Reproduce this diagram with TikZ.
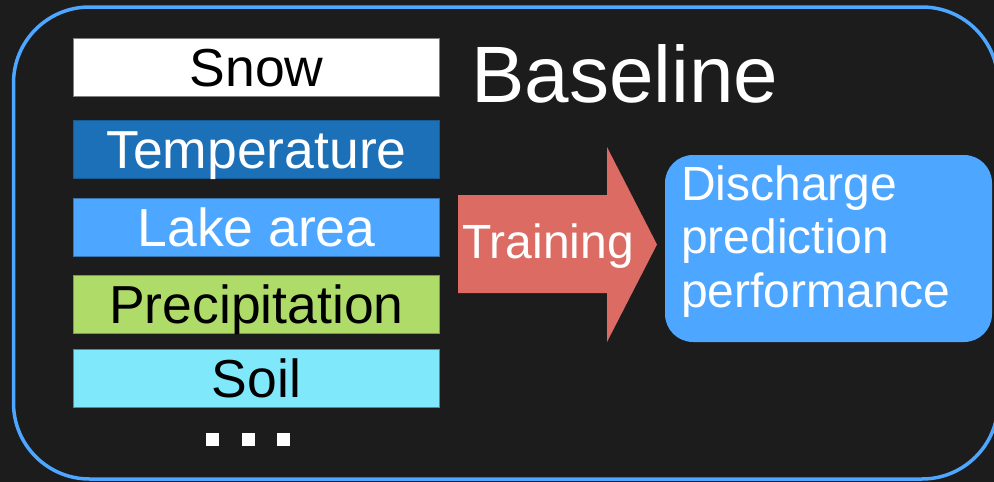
\documentclass[tikz,border=0pt]{standalone}
\usepackage{fontspec}
\setmainfont{Liberation Sans}
\definecolor{bgdark}{HTML}{1C1C1C}
\definecolor{frameblue}{HTML}{4DA6FF}
\definecolor{tempblue}{HTML}{1B70B8}
\definecolor{lakeblue}{HTML}{4DA6FF}
\definecolor{precipgreen}{HTML}{AFDC69}
\definecolor{soilcyan}{HTML}{80E8FB}
\definecolor{arrowred}{HTML}{DC6B64}
\begin{document}
\begin{tikzpicture}[x=1pt,y=-1pt,
  varbox/.style={rectangle, minimum width=366pt, minimum height=58pt,
    inner sep=0pt, line width=1pt,
    font=\fontsize{53.5}{60}\selectfont, text height=38pt, text depth=0pt},
  predbox/.style={rectangle, rounded corners=28pt, fill=lakeblue,
    minimum width=327pt, minimum height=187pt, inner sep=0pt},
  dot/.style={fill=white}]
\useasboundingbox (0,0) rectangle (994,482);
\fill[bgdark] (0,0) rectangle (994,482);

% outer frame, running off the right edge
\begin{scope}
  \clip (0,0) rectangle (994,482);
  \draw[frameblue, line width=3.5pt, rounded corners=76pt]
    (13.5,7) rectangle (998,479);
\end{scope}

% input variables
\node[varbox, fill=white, draw=gray, text=black] (snow) at (256.5,67) {Snow};
\node[varbox, fill=tempblue, draw=tempblue!80!black, text=white] (temp) at (256.5,149.5) {Temperature};
\node[varbox, fill=lakeblue, draw=lakeblue!70!black, text=white] (lake) at (256.5,227) {Lake area};
\node[varbox, fill=precipgreen, draw=precipgreen!70!black, text=black] (precip) at (256.5,304) {Precipitation};
\node[varbox, fill=soilcyan, draw=soilcyan!60!black, text=black] (soil) at (256.5,378.5) {Soil};

% ellipsis below the list
\fill[dot] (206,433) rectangle (219,446);
\fill[dot] (242,433) rectangle (255,446);
\fill[dot] (277,433) rectangle (290,446);

% title
\node[anchor=base west, inner sep=0pt, text=white,
  font=\fontsize{80}{90}\selectfont] (title) at (471,102) {Baseline};

% training block arrow
\fill[arrowred] (458,195) -- (607,195) -- (607,147) -- (657,244.5)
  -- (607,342) -- (607,293) -- (458,293) -- cycle;
\node[anchor=base west, inner sep=0pt, text=white,
  font=\fontsize{48}{54}\selectfont] (train) at (462,258) {Training};

% output
\node[predbox] (pred) at (828.5,248.5) {};
\node[anchor=north west, inner sep=0pt, text=white, align=left,
  font=\fontsize{48}{53.3}\selectfont] (predtext) at (681,165.6)
  {Discharge\\prediction\\performance};
\end{tikzpicture}
\end{document}
